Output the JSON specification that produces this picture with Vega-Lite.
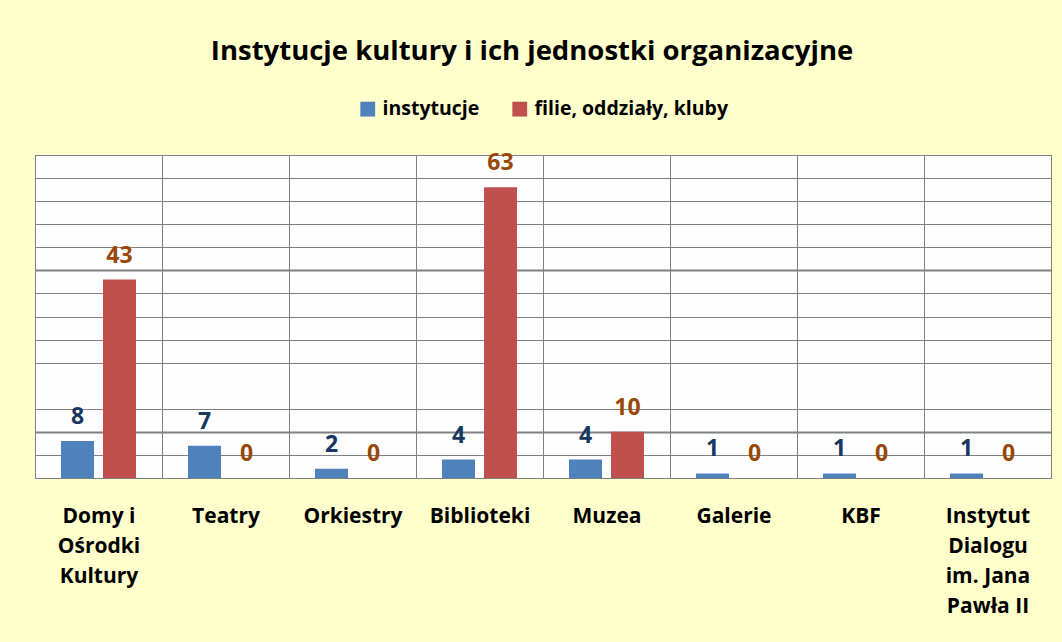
{
  "$schema": "https://vega.github.io/schema/vega-lite/v6.json",
  "width": 1016,
  "height": 323,
  "autosize": {"type": "none"},
  "padding": {"left": 35, "top": 155, "right": 11, "bottom": 164},
  "background": "#FFFFCC",
  "title": {
    "text": "Instytucje kultury i ich jednostki organizacyjne",
    "font": "Open Sans",
    "fontSize": 27.5,
    "fontWeight": "bold",
    "color": "#000000",
    "anchor": "middle",
    "dx": -11,
    "offset": 34
  },
  "data": {
    "values": [
      {"kategoria": "Domy i Ośrodki Kultury", "seria": "instytucje", "wartosc": 8},
      {"kategoria": "Domy i Ośrodki Kultury", "seria": "filie, oddziały, kluby", "wartosc": 43},
      {"kategoria": "Teatry", "seria": "instytucje", "wartosc": 7},
      {"kategoria": "Teatry", "seria": "filie, oddziały, kluby", "wartosc": 0},
      {"kategoria": "Orkiestry", "seria": "instytucje", "wartosc": 2},
      {"kategoria": "Orkiestry", "seria": "filie, oddziały, kluby", "wartosc": 0},
      {"kategoria": "Biblioteki", "seria": "instytucje", "wartosc": 4},
      {"kategoria": "Biblioteki", "seria": "filie, oddziały, kluby", "wartosc": 63},
      {"kategoria": "Muzea", "seria": "instytucje", "wartosc": 4},
      {"kategoria": "Muzea", "seria": "filie, oddziały, kluby", "wartosc": 10},
      {"kategoria": "Galerie", "seria": "instytucje", "wartosc": 1},
      {"kategoria": "Galerie", "seria": "filie, oddziały, kluby", "wartosc": 0},
      {"kategoria": "KBF", "seria": "instytucje", "wartosc": 1},
      {"kategoria": "KBF", "seria": "filie, oddziały, kluby", "wartosc": 0},
      {"kategoria": "Instytut Dialogu im. Jana Pawła II", "seria": "instytucje", "wartosc": 1},
      {"kategoria": "Instytut Dialogu im. Jana Pawła II", "seria": "filie, oddziały, kluby", "wartosc": 0}
    ]
  },
  "encoding": {
    "x": {
      "field": "kategoria",
      "type": "nominal",
      "sort": null,
      "scale": {"paddingInner": 0, "paddingOuter": 0},
      "axis": {
        "title": null,
        "labelAngle": 0,
        "tickBand": "extent",
        "grid": true,
        "gridColor": "#808080",
        "gridOpacity": 1,
        "gridWidth": 1,
        "ticks": false,
        "domain": false,
        "labelFont": "Open Sans",
        "labelFontSize": 21,
        "labelFontWeight": "bold",
        "labelColor": "#000000",
        "labelPadding": 27,
        "labelLineHeight": 30,
        "labelBaseline": "top",
        "labelLimit": 200,
        "labelExpr": "datum.value == 'Domy i Ośrodki Kultury' ? ['Domy i', 'Ośrodki', 'Kultury'] : datum.value == 'Instytut Dialogu im. Jana Pawła II' ? ['Instytut', 'Dialogu', 'im. Jana', 'Pawła II'] : datum.label"
      }
    },
    "xOffset": {
      "field": "seria",
      "type": "nominal",
      "sort": null,
      "scale": {"paddingInner": 0.214, "paddingOuter": 0.619}
    },
    "y": {
      "field": "wartosc",
      "type": "quantitative",
      "scale": {"domain": [0, 70], "nice": false},
      "axis": {
        "title": null,
        "values": [0, 5, 10, 15, 25, 30, 35, 40, 45, 50, 55, 60, 65, 70],
        "labels": false,
        "ticks": false,
        "domain": false,
        "grid": true,
        "gridColor": "#808080",
        "gridOpacity": 1,
        "gridWidth": {"condition": {"test": "datum.value == 10 || datum.value == 45", "value": 2}, "value": 1}
      }
    }
  },
  "layer": [
    {
      "mark": {"type": "bar"},
      "encoding": {
        "color": {
          "field": "seria",
          "type": "nominal",
          "sort": null,
          "scale": {"range": ["#4F81BD", "#C0504D"]},
          "legend": {
            "title": null,
            "orient": "top",
            "direction": "horizontal",
            "symbolType": "square",
            "symbolSize": 220,
            "symbolStrokeWidth": 0,
            "symbolOpacity": 1,
            "labelFont": "Open Sans",
            "labelFontSize": 19.5,
            "labelFontWeight": "bold",
            "labelColor": "#000000",
            "labelLimit": 400,
            "columnPadding": 30,
            "symbolOffset": 0,
            "labelOffset": 5,
            "offset": 36
          }
        }
      }
    },
    {
      "mark": {
        "type": "text",
        "font": "Open Sans",
        "fontSize": 23,
        "fontWeight": "bold",
        "baseline": "alphabetic",
        "dy": -17
      },
      "encoding": {
        "text": {"field": "wartosc", "type": "quantitative"},
        "color": {
          "condition": {"test": "datum.seria == 'instytucje'", "value": "#17375E"},
          "value": "#984807"
        }
      }
    }
  ],
  "config": {
    "view": {"fill": "#FEFEFE", "stroke": "#808080", "strokeWidth": 1},
    "legend": {"layout": {"top": {"anchor": "middle"}}}
  }
}
